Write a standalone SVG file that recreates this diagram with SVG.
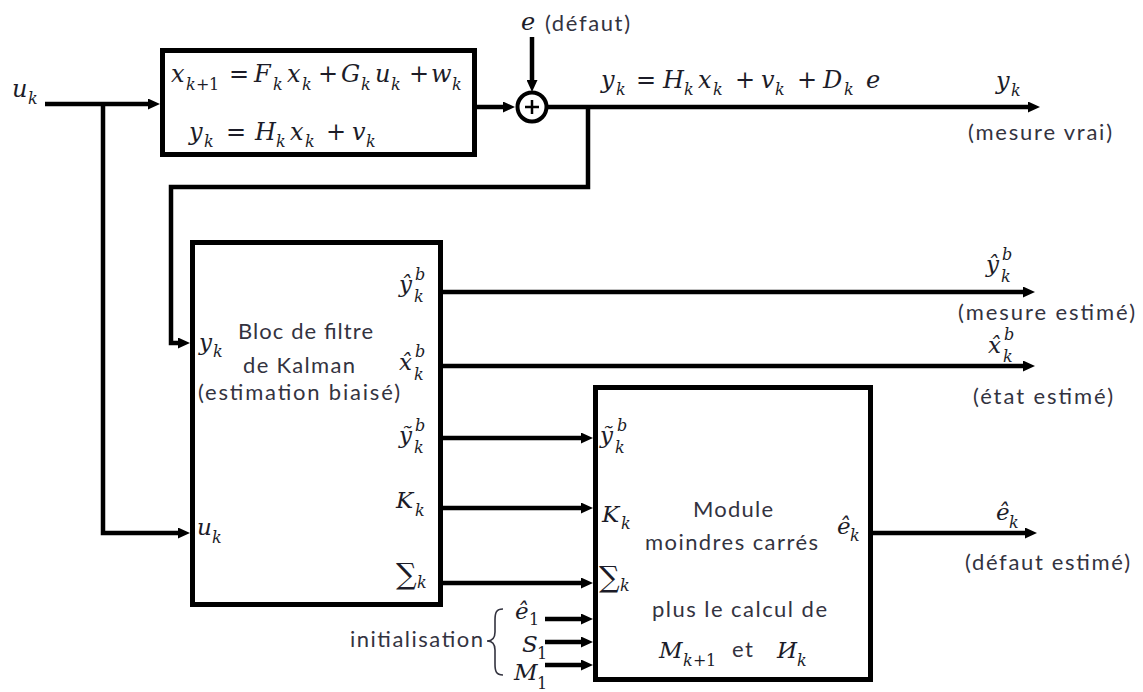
<svg xmlns="http://www.w3.org/2000/svg" width="1143" height="692" viewBox="0 0 1143 692">
<defs>
<marker id="ah" markerUnits="userSpaceOnUse" markerWidth="12" markerHeight="11" refX="4" refY="5.5" orient="auto"><path d="M0,0 L12,5.5 L0,11 z" fill="#000"/></marker>
<style>
.box{fill:#fff;stroke:#000;stroke-width:5}
.ln{fill:none;stroke:#000;stroke-width:4.5;marker-end:url(#ah)}
.m{font-family:"DejaVu Serif","Liberation Serif",serif;font-style:italic;font-size:24px;fill:#1c1c28}
.l{font-family:"DejaVu Serif","Liberation Serif",serif;font-style:italic;font-size:23px;fill:#1c1c28}
.s{font-size:16px}
.sig{font-size:29px;font-style:normal}
.up{font-style:normal}
.t{font-family:Lato,"Open Sans",sans-serif;font-size:22px;fill:#33333f}
</style>
</defs>
<rect width="1143" height="692" fill="#fff"/>

<g id="connectors">
<path class="ln" d="M45,104 H152"/>
<path class="ln" d="M103,102 V533 H182"/>
<path class="ln" d="M477,107 H507"/>
<path class="ln" d="M532,37 V84"/>
<path class="ln" d="M548,107 H1032"/>
<path class="ln" d="M588,105 V187 H171 V343 H182"/>
<path class="ln" d="M443,292 H1027"/>
<path class="ln" d="M443,366 H1027"/>
<path class="ln" d="M443,438 H585"/>
<path class="ln" d="M443,508 H585"/>
<path class="ln" d="M443,583 H585"/>
<path class="ln" d="M873,533 H1029"/>
<path class="ln" d="M545,619 H585"/>
<path class="ln" d="M545,642 H585"/>
<path class="ln" d="M545,665 H585"/>
</g>

<g id="input-u">
<text class="m" y="97"><tspan x="12">u</tspan><tspan class="s" x="28" y="104">k</tspan></text>
</g>

<g id="system">
<rect class="box" x="162.5" y="50.5" width="312" height="104"/>
<text class="m" y="82"><tspan x="171">x</tspan><tspan class="s" x="186" y="90">k</tspan><tspan class="s up" x="196" y="90">+</tspan><tspan class="s up" x="209" y="90">1</tspan><tspan class="up" x="229" y="82">=</tspan><tspan x="254">F</tspan><tspan class="s" x="273" y="90">k</tspan><tspan x="287" y="82">x</tspan><tspan class="s" x="302" y="90">k</tspan><tspan class="up" x="318" y="82">+</tspan><tspan x="341">G</tspan><tspan class="s" x="361" y="90">k</tspan><tspan x="375" y="82">u</tspan><tspan class="s" x="391" y="90">k</tspan><tspan class="up" x="409" y="82">+</tspan><tspan x="431">w</tspan><tspan class="s" x="452" y="90">k</tspan></text>
<text class="m" y="140"><tspan x="189">y</tspan><tspan class="s" x="204" y="147">k</tspan><tspan class="up" x="226" y="140">=</tspan><tspan x="255">H</tspan><tspan class="s" x="276" y="147">k</tspan><tspan x="290" y="140">x</tspan><tspan class="s" x="305" y="147">k</tspan><tspan class="up" x="326" y="140">+</tspan><tspan x="352">v</tspan><tspan class="s" x="366" y="147">k</tspan></text>
</g>

<g id="sum">
<circle cx="532" cy="107" r="14.5" fill="#fff" stroke="#000" stroke-width="4"/>
<path d="M532,100 V114 M525,107 H539" stroke="#000" stroke-width="2.5"/>
<text class="m" x="521" y="30">e</text>
<text class="t" x="545" y="31" textLength="85">(défaut)</text>
</g>

<g id="output-y">
<text class="m" y="88"><tspan x="601">y</tspan><tspan class="s" x="616" y="95">k</tspan><tspan class="up" x="636" y="88">=</tspan><tspan x="663">H</tspan><tspan class="s" x="684" y="95">k</tspan><tspan x="698" y="88">x</tspan><tspan class="s" x="713" y="95">k</tspan><tspan class="up" x="735" y="88">+</tspan><tspan x="761">v</tspan><tspan class="s" x="775" y="95">k</tspan><tspan class="up" x="797" y="88">+</tspan><tspan x="823">D</tspan><tspan class="s" x="844" y="95">k</tspan><tspan x="866" y="88">e</tspan></text>
<text class="m" y="89"><tspan x="996">y</tspan><tspan class="s" x="1011" y="96">k</tspan></text>
<text class="t" x="968" y="140" textLength="144">(mesure vrai)</text>
</g>

<g id="kalman">
<rect class="box" x="192.5" y="242.5" width="248" height="362"/>
<text class="l" y="350"><tspan x="199">y</tspan><tspan class="s" x="213" y="357">k</tspan></text>
<text class="l" y="535"><tspan x="197">u</tspan><tspan class="s" x="212" y="543">k</tspan></text>
<text class="t" x="238" y="339" textLength="135">Bloc de filtre</text>
<text class="t" x="243" y="373" textLength="112">de Kalman</text>
<text class="t" x="198" y="400" textLength="202">(estimation biaisé)</text>
<text class="l" y="292"><tspan x="399">ŷ</tspan><tspan class="s" x="415" y="280">b</tspan><tspan class="s" x="414" y="302">k</tspan></text>
<text class="l" y="370"><tspan x="399">x&#x302;</tspan><tspan class="s" x="415" y="357">b</tspan><tspan class="s" x="414" y="380">k</tspan></text>
<text class="l" y="443"><tspan x="399">ỹ</tspan><tspan class="s" x="415" y="431">b</tspan><tspan class="s" x="414" y="453">k</tspan></text>
<text class="l" y="508"><tspan x="396">K</tspan><tspan class="s" x="415" y="516">k</tspan></text>
<text class="l" y="584"><tspan class="sig" x="396">∑</tspan><tspan class="s" x="417" y="588">k</tspan></text>
</g>

<g id="estimates">
<text class="l" y="272"><tspan x="986">ŷ</tspan><tspan class="s" x="1002" y="260">b</tspan><tspan class="s" x="1001" y="282">k</tspan></text>
<text class="t" x="958" y="320" textLength="177">(mesure estimé)</text>
<text class="l" y="353"><tspan x="988">x&#x302;</tspan><tspan class="s" x="1004" y="340">b</tspan><tspan class="s" x="1003" y="362">k</tspan></text>
<text class="t" x="973" y="404" textLength="140">(état estimé)</text>
<text class="l" y="520"><tspan x="996">ê</tspan><tspan class="s" x="1009" y="528">k</tspan></text>
<text class="t" x="965" y="570" textLength="165">(défaut estimé)</text>
</g>

<g id="module">
<rect class="box" x="595.5" y="387.5" width="275" height="292"/>
<text class="l" y="443"><tspan x="600">ỹ</tspan><tspan class="s" x="617" y="431">b</tspan><tspan class="s" x="615" y="453">k</tspan></text>
<text class="l" y="522"><tspan x="602">K</tspan><tspan class="s" x="621" y="529">k</tspan></text>
<text class="l" y="587"><tspan class="sig" x="599">∑</tspan><tspan class="s" x="620" y="591">k</tspan></text>
<text class="l" y="534"><tspan x="837">ê</tspan><tspan class="s" x="850" y="541">k</tspan></text>
<text class="t" x="693" y="517" textLength="80">Module</text>
<text class="t" x="645" y="550" textLength="173">moindres carrés</text>
<text class="t" x="652" y="617" textLength="175">plus le calcul de</text>
<text class="l" y="658"><tspan x="659">M</tspan><tspan class="s" x="683" y="666">k</tspan><tspan class="s up" x="693" y="666">+</tspan><tspan class="s up" x="706" y="666">1</tspan></text>
<text class="t" x="732" y="657" textLength="21">et</text>
<text class="l" y="658"><tspan x="777">И</tspan><tspan class="s" x="797" y="666">k</tspan></text>
</g>

<g id="init">
<text class="t" x="350" y="647" textLength="133">initialisation</text>
<path d="M503,609 C496,609 495,613 495,620 L495,632 C495,638 492,641 487,641 C492,641 495,644 495,650 L495,664 C495,671 496,675 503,675" fill="none" stroke="#33333f" stroke-width="1.6"/>
<text class="l" y="619"><tspan x="515">ê</tspan><tspan class="s up" x="529" y="625">1</tspan></text>
<text class="l" y="652"><tspan x="522">S</tspan><tspan class="s up" x="537" y="659">1</tspan></text>
<text class="l" y="680"><tspan x="514">M</tspan><tspan class="s up" x="537" y="689">1</tspan></text>
</g>
</svg>
